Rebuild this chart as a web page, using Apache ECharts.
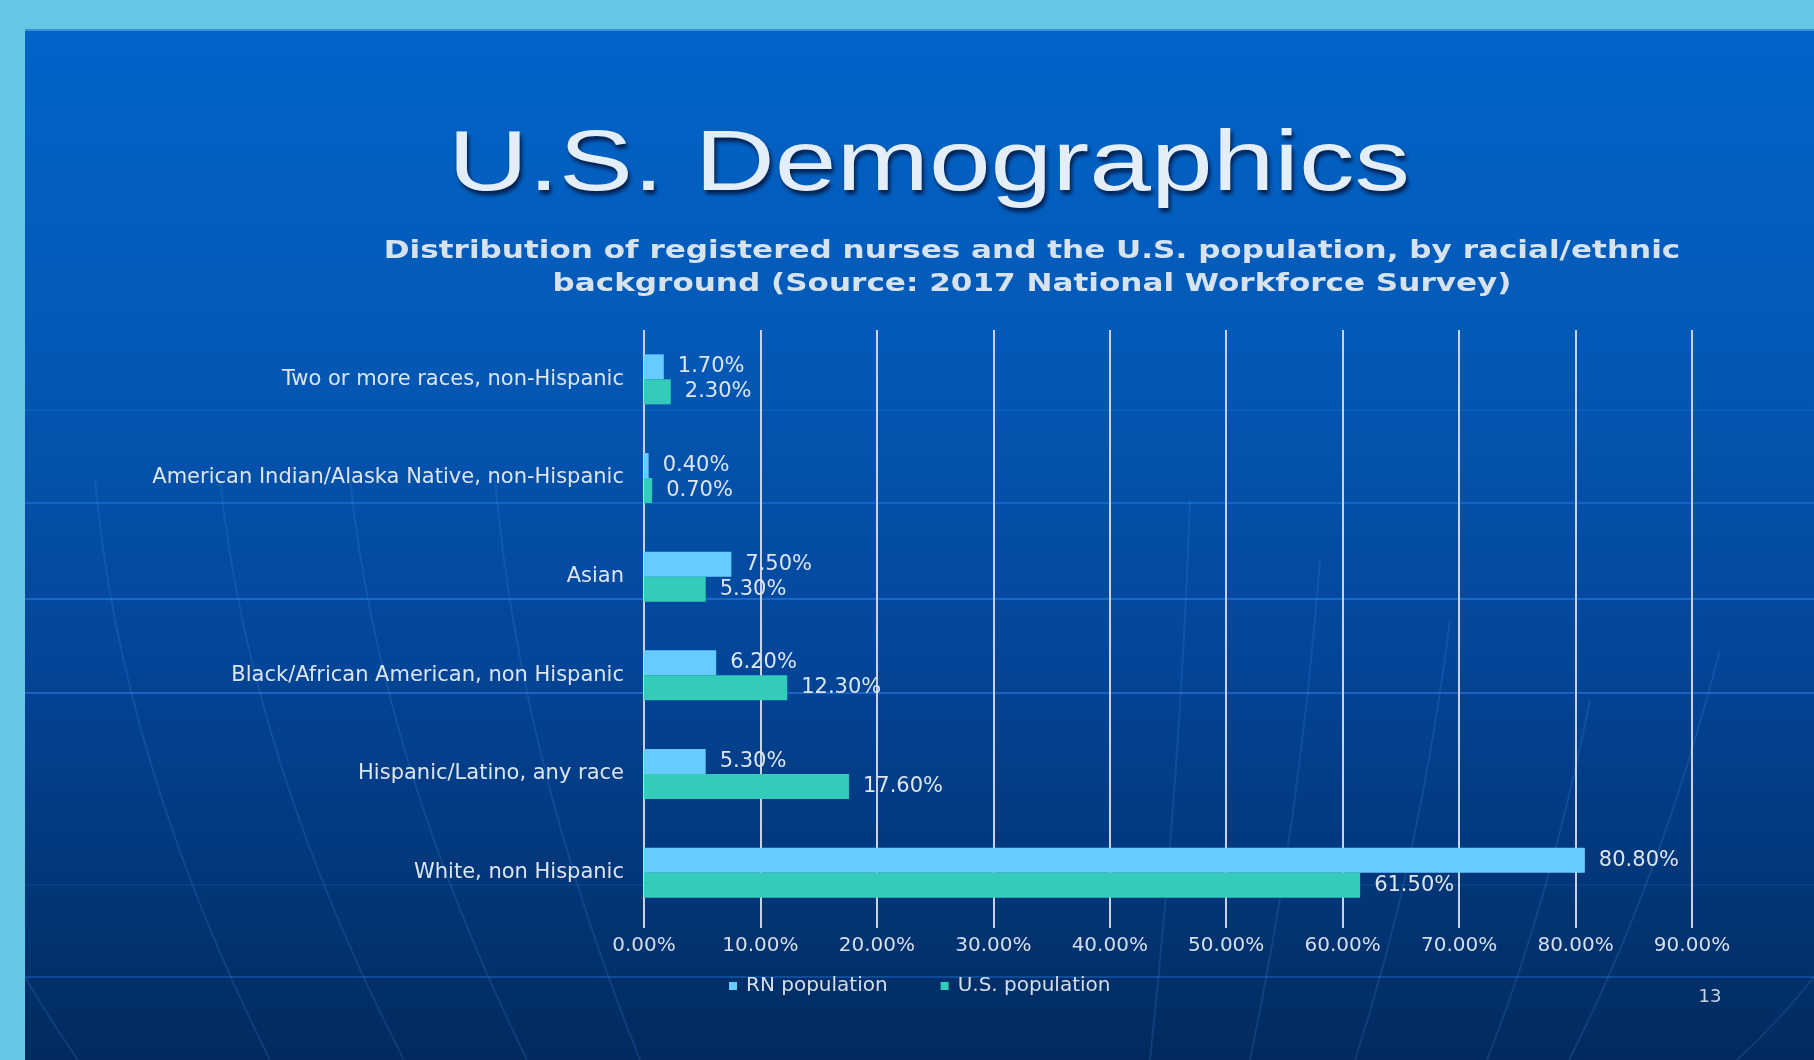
<!DOCTYPE html>
<html>
<head>
<meta charset="utf-8">
<script src="https://cdn.jsdelivr.net/npm/echarts@6/dist/echarts.min.js"></script>
<style>
html,body{margin:0;padding:0;background:#66c6e4;}
#chart{width:1814px;height:1060px;}
</style>
</head>
<body>
<div id="chart"></div>
<script>
const categories = [
  'Two or more races, non-Hispanic',
  'American Indian/Alaska Native, non-Hispanic',
  'Asian',
  'Black/African American, non Hispanic',
  'Hispanic/Latino, any race',
  'White, non Hispanic'
];
const rnPopulation = [1.7, 0.4, 7.5, 6.2, 5.3, 80.8];
const usPopulation = [2.3, 0.7, 5.3, 12.3, 17.6, 61.5];
const seriesNames = ['RN population', 'U.S. population'];
const titleText = 'U.S. Demographics';
const subtitleLines = [
  'Distribution of registered nurses and the U.S. population, by racial/ethnic',
  'background (Source: 2017 National Workforce Survey)'
];
const pageNumber = '13';

const chart = echarts.init(document.getElementById('chart'), null, {renderer: 'canvas'});

const FONT = '"DejaVu Sans", Verdana, sans-serif';
const decoLines = [];
[[410, 0.14], [503, 0.35], [599, 0.45], [693, 0.45], [885, 0.12], [977, 0.3]].forEach(function (d) {
  decoLines.push({
    type: 'line', z: -9, silent: true,
    shape: {x1: 25, y1: d[0], x2: 1814, y2: d[0]},
    style: {stroke: 'rgba(50,140,255,' + d[1] + ')', lineWidth: 2}
  });
});
// faint globe meridians
const arcs = [
  [95, 480, 120, 760, 270, 1060],
  [220, 480, 250, 760, 404, 1060],
  [350, 480, 380, 760, 527, 1060],
  [495, 480, 520, 760, 640, 1060],
  [25, 977, 50, 1020, 78, 1060],
  [1190, 500, 1180, 780, 1150, 1060],
  [1320, 560, 1300, 820, 1250, 1060],
  [1450, 620, 1420, 860, 1355, 1060],
  [1590, 700, 1550, 900, 1487, 1060],
  [1720, 650, 1660, 880, 1569, 1060],
  [1814, 977, 1780, 1020, 1737, 1060]
];
arcs.forEach(function (a) {
  decoLines.push({
    type: 'bezierCurve', z: -9, silent: true,
    shape: {x1: a[0], y1: a[1], cpx1: a[2], cpy1: a[3], x2: a[4], y2: a[5]},
    style: {stroke: 'rgba(70,150,240,0.18)', lineWidth: 2, fill: null}
  });
});

const option = {
  backgroundColor: '#66c6e4',
  animation: false,
  graphic: [
    {
      type: 'rect', z: -10, silent: true,
      shape: {x: 25, y: 30, width: 1789, height: 1030},
      style: {
        fill: new echarts.graphic.LinearGradient(0, 0, 0, 1, [
          {offset: 0, color: '#0064c9'},
          {offset: 0.3, color: '#0459b6'},
          {offset: 0.6, color: '#03469a'},
          {offset: 1, color: '#022a5e'}
        ])
      }
    },
    {
      type: 'line', z: -9, silent: true,
      shape: {x1: 25, y1: 30, x2: 1814, y2: 30},
      style: {stroke: '#3b8fd6', lineWidth: 2}
    }
  ].concat(decoLines).concat([
    {
      type: 'text', z: 10,
      x: 929, y: 123, scaleX: 1.29,
      style: {
        text: titleText, fill: '#e4eef8',
        font: '86px "Liberation Sans", Arial, sans-serif',
        textAlign: 'center', textVerticalAlign: 'top',
        textShadowColor: 'rgba(0,20,60,0.9)', textShadowBlur: 4,
        textShadowOffsetX: 2, textShadowOffsetY: 4
      }
    },
    {
      type: 'text', z: 10,
      x: 1032, y: 251, scaleX: 1.243,
      style: {
        text: subtitleLines[0], fill: '#d6e2ee',
        font: 'bold 25px ' + FONT, textAlign: 'center', textVerticalAlign: 'middle'
      }
    },
    {
      type: 'text', z: 10,
      x: 1032, y: 284, scaleX: 1.243,
      style: {
        text: subtitleLines[1], fill: '#d6e2ee',
        font: 'bold 25px ' + FONT, textAlign: 'center', textVerticalAlign: 'middle'
      }
    },
    {
      type: 'text', z: 10,
      x: 1710, y: 997,
      style: {
        text: pageNumber, fill: '#c8d4e2',
        font: '18px ' + FONT, textAlign: 'center', textVerticalAlign: 'middle'
      }
    }
  ]),
  legend: {
    data: seriesNames,
    left: 724, top: 971,
    itemWidth: 8, itemHeight: 8, itemGap: 53,
    icon: 'rect',
    textStyle: {color: '#d4dfea', fontSize: 20, fontFamily: FONT, padding: [0, 0, 0, 4]}
  },
  grid: {left: 644, right: 122, top: 330, bottom: 138, containLabel: false},
  xAxis: {
    type: 'value', min: 0, max: 90, interval: 10,
    axisLine: {show: false},
    axisTick: {show: true, length: 6, lineStyle: {color: '#c8d2e2', width: 2}},
    splitLine: {show: true, lineStyle: {color: '#c8d2e2', width: 2}},
    axisLabel: {
      color: '#d4dfea', fontSize: 20, fontFamily: FONT, margin: 14,
      formatter: function (v) { return v.toFixed(2) + '%'; }
    }
  },
  yAxis: {
    type: 'category', data: categories, inverse: true,
    axisLine: {show: false}, axisTick: {show: false},
    splitLine: {show: false},
    axisLabel: {color: '#dbe5f0', fontSize: 21, fontFamily: FONT, margin: 20}
  },
  series: [
    {
      name: seriesNames[0], type: 'bar', data: rnPopulation,
      barWidth: 25, barGap: '0%',
      itemStyle: {color: '#66ccff'},
      label: {
        show: true, position: 'right', distance: 14,
        color: '#dbe5f0', fontSize: 21, fontFamily: FONT,
        formatter: function (p) { return p.value.toFixed(2) + '%'; }
      }
    },
    {
      name: seriesNames[1], type: 'bar', data: usPopulation,
      barWidth: 25, barGap: '0%',
      itemStyle: {color: '#33ccbb'},
      label: {
        show: true, position: 'right', distance: 14,
        color: '#dbe5f0', fontSize: 21, fontFamily: FONT,
        formatter: function (p) { return p.value.toFixed(2) + '%'; }
      }
    }
  ]
};
chart.setOption(option);
</script>
</body>
</html>
